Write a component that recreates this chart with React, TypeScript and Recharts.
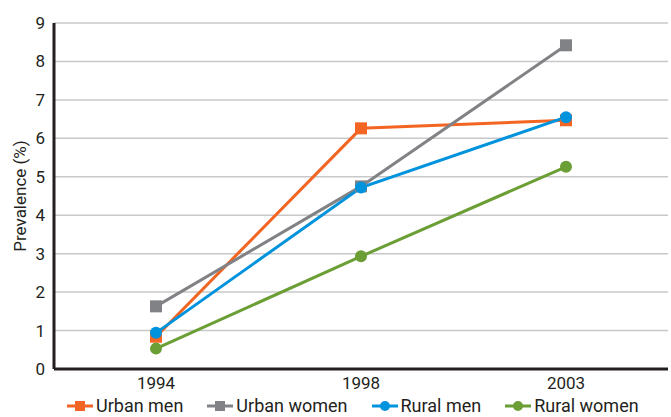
import React from 'react';
import { LineChart, Line, XAxis, YAxis, CartesianGrid, Legend } from 'recharts';

const years = ['1994', '1998', '2003'];
const urbanMen = [0.84, 6.26, 6.47];
const urbanWomen = [1.63, 4.75, 8.42];
const ruralMen = [0.94, 4.72, 6.55];
const ruralWomen = [0.53, 2.93, 5.26];
const yTicks = [0, 1, 2, 3, 4, 5, 6, 7, 8, 9];

const data = years.map((y, i) => ({
  year: y,
  urbanMen: urbanMen[i],
  urbanWomen: urbanWomen[i],
  ruralMen: ruralMen[i],
  ruralWomen: ruralWomen[i],
}));

const FONT = 'Roboto, "Noto Sans", sans-serif';
const TEXT = '#231f20';

const series = [
  { key: 'urbanMen', name: 'Urban men', color: '#f26522', shape: 'square' },
  { key: 'urbanWomen', name: 'Urban women', color: '#808285', shape: 'square' },
  { key: 'ruralMen', name: 'Rural men', color: '#0093dd', shape: 'circle' },
  { key: 'ruralWomen', name: 'Rural women', color: '#6b9e35', shape: 'circle' },
];

const SquareDot = (props: any) => {
  const { cx, cy, stroke } = props;
  if (cx == null || cy == null) return null;
  return <rect x={cx - 6} y={cy - 6} width={12} height={12} fill={stroke} />;
};

const CircleDot = (props: any) => {
  const { cx, cy, stroke } = props;
  if (cx == null || cy == null) return null;
  return <circle cx={cx} cy={cy} r={6} fill={stroke} />;
};

const LegendContent = () => (
  <div style={{ display: 'flex', gap: 24, fontFamily: FONT, fontSize: 18, color: TEXT, paddingLeft: 67, lineHeight: '22px' }}>
    {series.map(s => (
      <div key={s.key} style={{ display: 'flex', alignItems: 'center' }}>
        <svg width={26} height={14} style={{ marginRight: 3 }}>
          <line x1={0} y1={7} x2={26} y2={7} stroke={s.color} strokeWidth={3} />
          {s.shape === 'square'
            ? <rect x={8} y={2} width={10} height={10} fill={s.color} />
            : <circle cx={13} cy={7} r={5} fill={s.color} />}
        </svg>
        <span>{s.name}</span>
      </div>
    ))}
  </div>
);

export default function App() {
  return (
    <div style={{ position: 'absolute', left: 0, top: 0, background: '#fff' }}>
      <LineChart width={671} height={417} data={data} margin={{ top: 23, right: 3, left: 0, bottom: 0 }}>
        <CartesianGrid horizontal vertical={false} stroke="#c8c8c8" strokeWidth={1.5} />
        <XAxis
          dataKey="year"
          padding={{ left: 102, right: 102 }}
          tickLine={false}
          axisLine={{ stroke: TEXT, strokeWidth: 3 }}
          tick={{ fill: TEXT, fontSize: 17, fontFamily: FONT }}
          height={26}
        />
        <YAxis
          domain={[0, 9]}
          ticks={yTicks}
          interval={0}
          tickLine={false}
          axisLine={{ stroke: TEXT, strokeWidth: 3 }}
          tick={{ fill: TEXT, fontSize: 17, fontFamily: FONT, dx: -1 }}
          width={54}
          label={{ value: 'Prevalence (%)', angle: -90, position: 'center', dx: -7, style: { fill: TEXT, fontSize: 17, fontFamily: FONT } }}
        />
        <Legend verticalAlign="bottom" height={22} wrapperStyle={{ left: 0, width: 671, bottom: 0 }} content={<LegendContent />} />
        {series.map(s => (
          <Line
            key={s.key}
            dataKey={s.key}
            name={s.name}
            stroke={s.color}
            strokeWidth={3}
            dot={s.shape === 'square' ? <SquareDot /> : <CircleDot />}
            activeDot={false}
            isAnimationActive={false}
          />
        ))}
      </LineChart>
    </div>
  );
}
